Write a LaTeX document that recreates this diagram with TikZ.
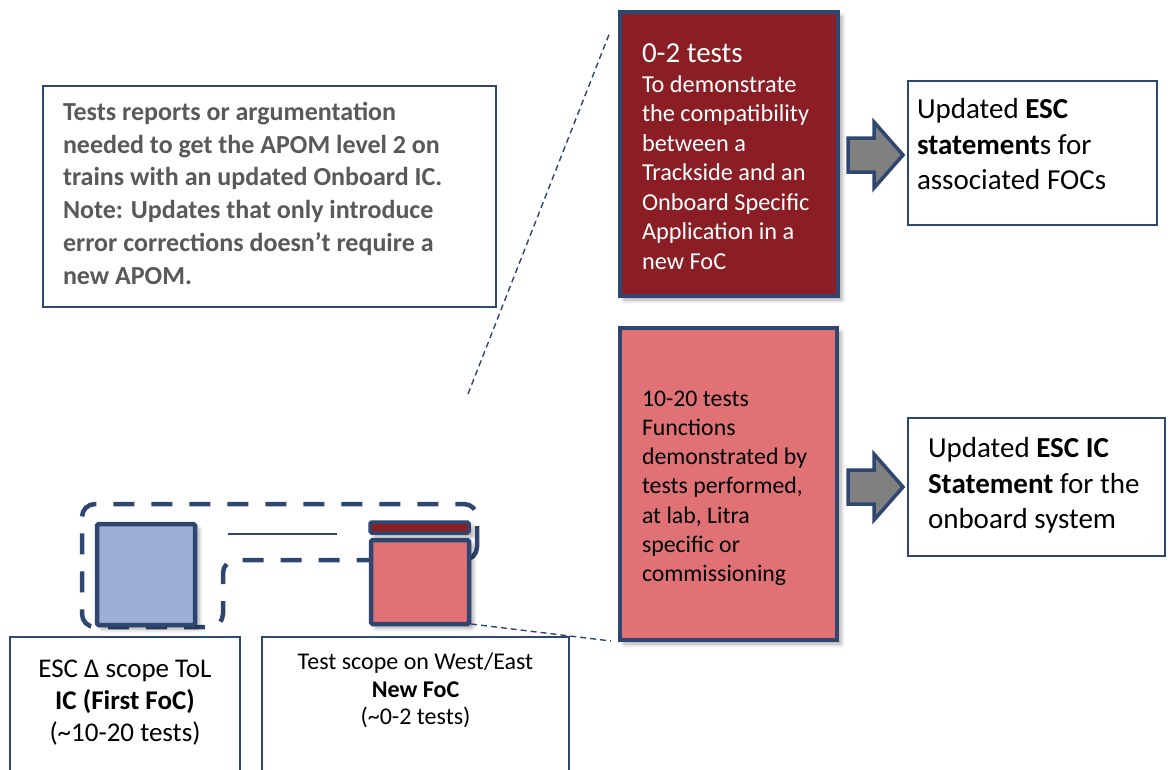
\documentclass[tikz,border=0pt]{standalone}
\usepackage{fontspec}
\setmainfont{Carlito}
\usetikzlibrary{shadows.blur,calc}
\definecolor{navy}{HTML}{2E4670}
\definecolor{darkred}{HTML}{8B1E24}
\definecolor{pinkred}{HTML}{E07276}
\definecolor{lightblue}{HTML}{9AAED6}
\definecolor{notegray}{HTML}{595959}
\definecolor{arrowgray}{HTML}{808080}
\begin{document}
\begin{tikzpicture}[x=1pt,y=-1pt,
  thinbox/.style={draw=navy, line width=1.5pt, fill=white, inner sep=0pt, outer sep=0pt},
  bigbox/.style={draw=navy, line width=4pt, inner sep=0pt, outer sep=0pt,
    blur shadow={shadow xshift=4pt, shadow yshift=-4pt, shadow blur radius=4pt, shadow opacity=35}},
  smallbox/.style={draw=navy, line width=4.5pt, inner sep=0pt, outer sep=0pt, rounded corners=1.5pt,
    blur shadow={shadow xshift=4pt, shadow yshift=-4pt, shadow blur radius=4pt, shadow opacity=35}},
  txt/.style={inner sep=0pt, outer sep=0pt},
  groupdash/.style={draw=navy, line width=4.5pt, dash pattern=on 21pt off 17pt, rounded corners=13pt},
  calloutline/.style={draw=navy, line width=1.4pt, dash pattern=on 6pt off 4pt},
  blockarrow/.style={draw=navy, fill=arrowgray, line width=3.5pt, line join=miter}
]
\useasboundingbox (0,0) rectangle (1173,769);
\clip (0,0) rectangle (1173,769);

% note box
\node[thinbox, minimum width=453pt, minimum height=221pt] (note) at (269.5,196.5) {};
\node[txt, anchor=north west, align=left, text=notegray, font=\bfseries\fontsize{26}{32.8}\selectfont] (notet) at (63,97.4)
  {\strut Tests reports or argumentation\\needed to get the APOM level 2 on\\trains with an updated Onboard IC.\\Note: Updates that only introduce\\error corrections doesn’t require a\\new APOM.};

% dark red box
\node[bigbox, fill=darkred, minimum width=218pt, minimum height=284pt] (t02) at (729,154) {};
\node[txt, anchor=base west, text=white, font=\fontsize{29}{32}\selectfont] (t02t) at (642,62) {0-2 tests};
\node[txt, anchor=north west, align=left, text=white, font=\fontsize{24.3}{29.5}\selectfont] (t02b) at (642,71.4)
  {\strut To demonstrate\\the compatibility\\between a\\Trackside and an\\Onboard Specific\\Application in a\\new FoC};

% pink box
\node[bigbox, fill=pinkred, minimum width=217pt, minimum height=312pt] (t1020) at (728.5,484) {};
\node[txt, anchor=north west, align=left, text=black, font=\fontsize{23.8}{29.3}\selectfont] (t1020t) at (642,385.5)
  {\strut 10-20 tests\\Functions\\demonstrated by\\tests performed,\\at lab, Litra\\specific or\\commissioning};

% result boxes
\node[thinbox, minimum width=249pt, minimum height=144pt] (esc1) at (1032.5,153) {};
\node[txt, anchor=north west, align=left, font=\fontsize{29}{35.5}\selectfont] (esc1t) at (917,93.9)
  {\strut Updated \textbf{ESC}\\\textbf{statement}s for\\associated FOCs};
\node[thinbox, minimum width=257pt, minimum height=138pt] (esc2) at (1036.5,487) {};
\node[txt, anchor=north west, align=left, font=\fontsize{29}{35.5}\selectfont] (esc2t) at (928,432.9)
  {\strut Updated \textbf{ESC IC}\\\textbf{Statement} for the\\onboard system};

% block arrows
\coordinate (a1) at ($(t02.east)+(10,1)$);
\draw[blockarrow] (a1) ++(0,-17) -- ++(26,0) -- ++(0,-16) -- ++(29,33) -- ++(-29,33) -- ++(0,-16) -- ++(-26,0) -- cycle;
\coordinate (a2) at ($(t1020.east)+(11,3)$);
\draw[blockarrow] (a2) ++(0,-17) -- ++(26,0) -- ++(0,-16) -- ++(29,33) -- ++(-29,33) -- ++(0,-16) -- ++(-26,0) -- cycle;

% group outline
\draw[groupdash] (477,560) -- (477,504) -- (82,504) -- (82,627) -- (223,627) -- (223,560) -- cycle;

% small squares
\node[smallbox, fill=lightblue, minimum width=98pt, minimum height=101pt] (ic) at (146,574.5) {};
\node[smallbox, line width=3.5pt, fill=darkred, minimum width=99pt, minimum height=11pt] (bar) at (419.5,527.5) {};
\node[smallbox, fill=pinkred, minimum width=98pt, minimum height=84pt] (foc) at (420,582) {};
\draw[navy, line width=1.5pt] (228,534) -- (337,534);

% callout lines
\coordinate (c1) at (468,394);
\coordinate (c2) at ($(t02.north west)+(-10,20)$);
\draw[calloutline] (c1) -- (c2);
\draw[calloutline] ($(foc.south east)+(2,0)$) -- ($(t1020.south west)+(-9,1)$);

% bottom boxes
\node[thinbox, minimum width=230pt, minimum height=163pt] (boxa) at (125,718.5) {};
\node[txt, anchor=north, align=center, font=\fontsize{27}{32}\selectfont] (boxat) at (125,654.6)
  {\strut ESC Δ scope ToL\\\textbf{IC (First FoC)}\\(\textasciitilde10-20 tests)};
\node[thinbox, minimum width=307pt, minimum height=163pt] (boxb) at (415.5,718.5) {};
\node[txt, anchor=north, align=center, font=\fontsize{24}{27.5}\selectfont] (boxbt) at (415.5,650.7)
  {\strut Test scope on West/East\\\textbf{New FoC}\\(\textasciitilde0-2 tests)};
\end{tikzpicture}
\end{document}
